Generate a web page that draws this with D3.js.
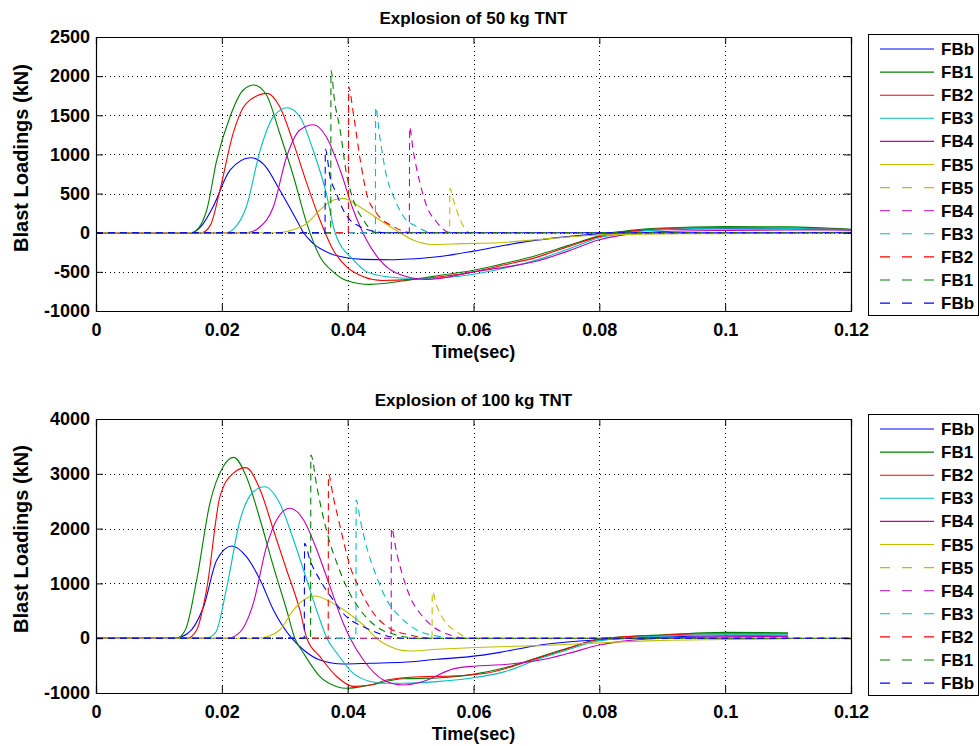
<!DOCTYPE html>
<html><head><meta charset="utf-8">
<script src="https://cdn.jsdelivr.net/npm/d3@7/dist/d3.min.js"></script>
<style>
body{margin:0;background:#fff;}
text{font-family:"Liberation Sans",Arial,Helvetica,sans-serif;font-weight:bold;fill:#000;}
</style></head>
<body><svg id="c" width="980" height="746"></svg>
<script>
// ---------- DATA ----------
const timeTicks = [0,0.02,0.04,0.06,0.08,0.1,0.12];
const timeTickLabels = ["0","0.02","0.04","0.06","0.08","0.1","0.12"];
const yTicks50 = [-1000,-500,0,500,1000,1500,2000,2500];
const yTicks100 = [-1000,0,1000,2000,3000,4000];
const titles = ["Explosion of 50 kg TNT","Explosion of 100 kg TNT"];
const legendNames = ["FBb","FB1","FB2","FB3","FB4","FB5","FB5","FB4","FB3","FB2","FB1","FBb"];

// 50 kg TNT, solid series [time(s), load(kN)]
const s50_FBb = [[0,0],[0.0152,0],[0.0168,90],[0.0186,330],[0.0213,800],[0.0246,958],[0.0268,860],[0.0292,545],[0.0319,160],[0.033,0],[0.0345,-136],[0.0372,-264],[0.0398,-320],[0.0425,-340],[0.047,-345],[0.05,-335],[0.055,-300],[0.06,-235],[0.065,-160],[0.07,-95],[0.075,-50],[0.08,-12],[0.085,20],[0.09,40],[0.1,50],[0.11,50],[0.12,35]];
const s50_FB1 = [[0,0],[0.015,0],[0.0163,60],[0.0176,290],[0.0192,929],[0.0213,1482],[0.0234,1823],[0.0251,1887],[0.0271,1760],[0.0292,1270],[0.0314,715],[0.0335,120],[0.0356,-306],[0.0377,-500],[0.0398,-610],[0.0436,-660],[0.0504,-596],[0.055,-540],[0.06,-480],[0.065,-390],[0.07,-290],[0.075,-165],[0.08,-40],[0.085,30],[0.09,60],[0.1,80],[0.11,75],[0.12,45]];
const s50_FB2 = [[0,0],[0.0168,0],[0.0182,100],[0.0197,545],[0.0218,1270],[0.0239,1653],[0.0272,1780],[0.0292,1610],[0.0314,1142],[0.0335,631],[0.0356,162],[0.0377,-221],[0.0398,-434],[0.0425,-562],[0.0455,-610],[0.0504,-596],[0.055,-560],[0.06,-500],[0.065,-410],[0.07,-315],[0.075,-180],[0.08,-50],[0.085,20],[0.09,50],[0.1,65],[0.11,60],[0.12,40]];
const s50_FB3 = [[0,0],[0.0205,0],[0.022,60],[0.0239,332],[0.0261,1056],[0.0282,1482],[0.0304,1597],[0.0324,1482],[0.0345,1056],[0.0366,503],[0.038,0],[0.0409,-348],[0.043,-497],[0.0462,-562],[0.0504,-585],[0.055,-575],[0.06,-530],[0.065,-450],[0.07,-350],[0.075,-210],[0.08,-65],[0.085,5],[0.09,40],[0.1,60],[0.11,55],[0.12,40]];
const s50_FB4 = [[0,0],[0.024,0],[0.026,70],[0.0282,332],[0.0303,971],[0.0324,1312],[0.0346,1380],[0.0366,1226],[0.0388,801],[0.0409,290],[0.043,-93],[0.0451,-348],[0.0478,-519],[0.0523,-596],[0.055,-580],[0.06,-500],[0.065,-440],[0.07,-365],[0.075,-235],[0.08,-90],[0.085,-15],[0.09,15],[0.1,30],[0.11,35],[0.12,35]];
const s50_FB5 = [[0,0],[0.029,0],[0.031,30],[0.0335,120],[0.0356,290],[0.0377,418],[0.0393,439],[0.0419,332],[0.0451,162],[0.0483,0],[0.0504,-93],[0.0536,-150],[0.058,-140],[0.064,-128],[0.07,-90],[0.075,-55],[0.08,-30],[0.09,-15],[0.1,-12],[0.11,-5],[0.12,10]];
// 50 kg TNT, dashed series
const d50_FB5 = [[0,0],[0.0562,0],[0.05625,567],[0.0568,418],[0.0579,162],[0.0595,0],[0.12,0]];
const d50_FB4 = [[0,0],[0.0498,0],[0.04985,1346],[0.0504,1056],[0.0515,631],[0.0526,332],[0.0541,140],[0.0563,0],[0.12,0]];
const d50_FB3 = [[0,0],[0.0444,0],[0.04445,1602],[0.0451,1226],[0.0462,715],[0.0473,460],[0.0489,204],[0.0510,77],[0.0536,0],[0.12,0]];
const d50_FB2 = [[0,0],[0.0401,0],[0.04015,1865],[0.0409,1525],[0.0420,929],[0.0430,503],[0.0446,248],[0.0473,77],[0.0504,0],[0.12,0]];
const d50_FB1 = [[0,0],[0.0373,0],[0.03735,2070],[0.0379,1695],[0.0388,1312],[0.0398,758],[0.0409,418],[0.0425,162],[0.0446,0],[0.12,0]];
const d50_FBb = [[0,0],[0.0364,0],[0.03645,1070],[0.0372,715],[0.0382,503],[0.0393,290],[0.0404,162],[0.0420,77],[0.0441,19],[0.046,0],[0.12,0]];

// 100 kg TNT, solid series
const s100_FBb = [[0,0],[0.0125,0],[0.0145,80],[0.0171,575],[0.0192,1427],[0.0216,1682],[0.0239,1487],[0.0261,1062],[0.0282,515],[0.0311,0],[0.033,-215],[0.0356,-398],[0.0393,-471],[0.0436,-456],[0.0488,-440],[0.0542,-385],[0.0594,-337],[0.0642,-258],[0.0706,-124],[0.075,-70],[0.08,-30],[0.09,20],[0.1,45],[0.11,40]];
const s100_FB1 = [[0,0],[0.0128,0],[0.0142,150],[0.016,1062],[0.0181,2462],[0.0202,3130],[0.0219,3300],[0.0239,2947],[0.0261,2157],[0.0282,1305],[0.0303,515],[0.0316,0],[0.033,-276],[0.0356,-703],[0.0383,-885],[0.0398,-914],[0.0436,-854],[0.0488,-740],[0.0542,-725],[0.0594,-670],[0.065,-540],[0.0706,-337],[0.075,-180],[0.08,-20],[0.09,60],[0.1,107],[0.11,100]];
const s100_FB2 = [[0,0],[0.0145,0],[0.016,150],[0.0176,900],[0.0197,2582],[0.0218,3009],[0.0238,3112],[0.0261,2704],[0.0282,1974],[0.0303,1244],[0.0324,515],[0.0335,0],[0.0356,-337],[0.0383,-703],[0.0409,-880],[0.0436,-854],[0.0462,-763],[0.0515,-703],[0.0568,-690],[0.062,-640],[0.0706,-350],[0.075,-190],[0.08,-15],[0.09,55],[0.1,80],[0.11,80]];
const s100_FB3 = [[0,0],[0.0175,0],[0.019,100],[0.0208,940],[0.0229,2157],[0.025,2673],[0.0268,2765],[0.0292,2462],[0.0314,1792],[0.0335,1062],[0.0356,332],[0.0367,0],[0.0383,-276],[0.0409,-641],[0.0436,-790],[0.0457,-823],[0.0488,-823],[0.0542,-793],[0.0594,-732],[0.065,-610],[0.0706,-370],[0.075,-210],[0.08,-45],[0.09,40],[0.1,60],[0.11,60]];
const s100_FB4 = [[0,0],[0.021,0],[0.0228,100],[0.025,637],[0.0271,1670],[0.0287,2157],[0.0308,2370],[0.033,2157],[0.0351,1610],[0.0372,940],[0.0393,272],[0.0404,0],[0.0425,-398],[0.0457,-763],[0.0488,-854],[0.052,-790],[0.0568,-560],[0.0605,-507],[0.065,-480],[0.0706,-398],[0.075,-280],[0.08,-124],[0.085,-40],[0.09,0],[0.1,25],[0.11,30]];
const s100_FB5 = [[0,0],[0.0258,0],[0.0275,40],[0.0292,150],[0.0314,515],[0.033,697],[0.0348,770],[0.0372,666],[0.0398,484],[0.0425,241],[0.0446,0],[0.0457,-91],[0.0499,-234],[0.0542,-203],[0.0594,-173],[0.0642,-155],[0.0706,-135],[0.08,-85],[0.09,-40],[0.1,-25],[0.11,-10]];
// 100 kg TNT, dashed series
const d100_FB5 = [[0,0],[0.0534,0],[0.05345,849],[0.0542,575],[0.0557,272],[0.0573,119],[0.0594,0],[0.12,0]];
const d100_FB4 = [[0,0],[0.0469,0],[0.04695,2005],[0.0478,1549],[0.0488,1122],[0.0499,757],[0.0515,455],[0.0536,210],[0.0563,58],[0.0584,0],[0.12,0]];
const d100_FB3 = [[0,0],[0.0413,0],[0.04135,2522],[0.0420,2157],[0.0430,1670],[0.0446,1122],[0.0462,697],[0.0483,392],[0.0510,150],[0.0542,40],[0.0568,0],[0.12,0]];
const d100_FB2 = [[0,0],[0.0369,0],[0.03695,2990],[0.0377,2582],[0.0388,2035],[0.0404,1305],[0.0420,880],[0.0441,455],[0.0467,180],[0.0499,60],[0.0531,0],[0.12,0]];
const d100_FB1 = [[0,0],[0.0341,0],[0.03415,3343],[0.0351,2765],[0.0361,2217],[0.0372,1732],[0.0383,1367],[0.0398,940],[0.0420,515],[0.0446,210],[0.0478,58],[0.0510,0],[0.12,0]];
const d100_FBb = [[0,0],[0.0331,0],[0.03315,1732],[0.0340,1427],[0.0356,1062],[0.0377,697],[0.0398,392],[0.0425,210],[0.0451,82],[0.0488,0],[0.12,0]];

const colors = {FBb:"#0000ff",FB1:"#008000",FB2:"#ff0000",FB3:"#00bfbf",FB4:"#bf00bf",FB5:"#bfbf00"};

// ---------- DRAW ----------
const svg = d3.select("#c");
const X0 = 96, X1 = 851;

function panel(cfg){
  const g = svg.append("g");
  const x = d3.scaleLinear().domain([0,0.12]).range([X0,X1]);
  const y = d3.scaleLinear().domain(cfg.ydom).range([cfg.bottom,cfg.top]);
  // grid
  const grid = g.append("g").attr("stroke","#000").attr("stroke-width",1).attr("stroke-dasharray","1,3.5").attr("shape-rendering","crispEdges");
  timeTicks.slice(1,-1).forEach(t=>grid.append("line").attr("x1",Math.round(x(t))+0.5).attr("x2",Math.round(x(t))+0.5).attr("y1",cfg.top).attr("y2",cfg.bottom));
  cfg.yticks.slice(1,-1).forEach(v=>grid.append("line").attr("y1",Math.round(y(v))+0.5).attr("y2",Math.round(y(v))+0.5).attr("x1",X0).attr("x2",X1));
  // series
  const line = d3.line().x(d=>x(d[0])).y(d=>y(d[1])).curve(d3.curveMonotoneX);
  const clip = "clip"+cfg.id;
  svg.append("clipPath").attr("id",clip).append("rect").attr("x",X0).attr("y",cfg.top).attr("width",X1-X0).attr("height",cfg.bottom-cfg.top);
  const lg = g.append("g").attr("clip-path",`url(#${clip})`);
  cfg.series.forEach(s=>{
    lg.append("path").attr("d",line(s.data)).attr("fill","none").attr("stroke",colors[s.name])
      .attr("stroke-width",1.1).attr("stroke-dasharray",s.dash?"7,5":null);
  });
  // axes (ticks inside)
  const ax = g.append("g");
  ax.append("g").attr("transform",`translate(0,${cfg.bottom})`).call(d3.axisBottom(x).tickValues(timeTicks).tickFormat((d,i)=>timeTickLabels[i]).tickSize(-7).tickPadding(12));
  ax.append("g").attr("transform",`translate(0,${cfg.top})`).call(d3.axisTop(x).tickValues(timeTicks).tickFormat("").tickSize(-7));
  ax.append("g").attr("transform",`translate(${X0},0)`).call(d3.axisLeft(y).tickValues(cfg.yticks).tickFormat(d=>String(d)).tickSize(-7).tickPadding(6));
  ax.append("g").attr("transform",`translate(${X1},0)`).call(d3.axisRight(y).tickValues(cfg.yticks).tickFormat("").tickSize(-7));
  ax.selectAll(".domain").attr("stroke","#000").attr("stroke-width",1.2);
  ax.selectAll(".tick line").attr("stroke","#000").attr("stroke-width",1);
  ax.selectAll("text").attr("font-size",18).attr("font-family","Liberation Sans, Arial, sans-serif").attr("font-weight","bold").attr("fill","#000");
  // labels
  g.append("text").attr("x",(X0+X1)/2).attr("y",cfg.top-13).attr("text-anchor","middle").attr("font-size",17).text(cfg.title);
  g.append("text").attr("x",(X0+X1)/2).attr("y",cfg.bottom+47).attr("text-anchor","middle").attr("font-size",18).text("Time(sec)");
  g.append("text").attr("transform",`translate(28,${cfg.ylabY}) rotate(-90)`).attr("text-anchor","middle").attr("font-size",20).text("Blast Loadings (kN)");
  // legend
  const L = g.append("g");
  L.append("rect").attr("x",868.5).attr("y",cfg.legTop+0.5).attr("width",110).attr("height",281).attr("fill","#fff").attr("stroke","#000").attr("stroke-width",1);
  cfg.series.forEach((s,i)=>{
    const yy = cfg.legTop + 15 + i*23.1;
    L.append("line").attr("x1",880).attr("x2",934).attr("y1",yy).attr("y2",yy).attr("stroke",colors[s.name]).attr("stroke-width",1.1).attr("stroke-dasharray",s.dash?"10,12":null);
    L.append("text").attr("x",941).attr("y",yy+6).attr("font-size",17).text(legendNames[i]);
  });
}

panel({id:1,top:37,bottom:311,ydom:[-1000,2500],yticks:yTicks50,title:titles[0],legTop:34,ylabY:158,
  series:[{name:"FBb",data:s50_FBb},{name:"FB1",data:s50_FB1},{name:"FB2",data:s50_FB2},{name:"FB3",data:s50_FB3},{name:"FB4",data:s50_FB4},{name:"FB5",data:s50_FB5},
  {name:"FB5",data:d50_FB5,dash:1},{name:"FB4",data:d50_FB4,dash:1},{name:"FB3",data:d50_FB3,dash:1},{name:"FB2",data:d50_FB2,dash:1},{name:"FB1",data:d50_FB1,dash:1},{name:"FBb",data:d50_FBb,dash:1}]});
panel({id:2,top:419,bottom:693,ydom:[-1000,4000],yticks:yTicks100,title:titles[1],legTop:414,ylabY:539,
  series:[{name:"FBb",data:s100_FBb},{name:"FB1",data:s100_FB1},{name:"FB2",data:s100_FB2},{name:"FB3",data:s100_FB3},{name:"FB4",data:s100_FB4},{name:"FB5",data:s100_FB5},
  {name:"FB5",data:d100_FB5,dash:1},{name:"FB4",data:d100_FB4,dash:1},{name:"FB3",data:d100_FB3,dash:1},{name:"FB2",data:d100_FB2,dash:1},{name:"FB1",data:d100_FB1,dash:1},{name:"FBb",data:d100_FBb,dash:1}]});
</script></body></html>
